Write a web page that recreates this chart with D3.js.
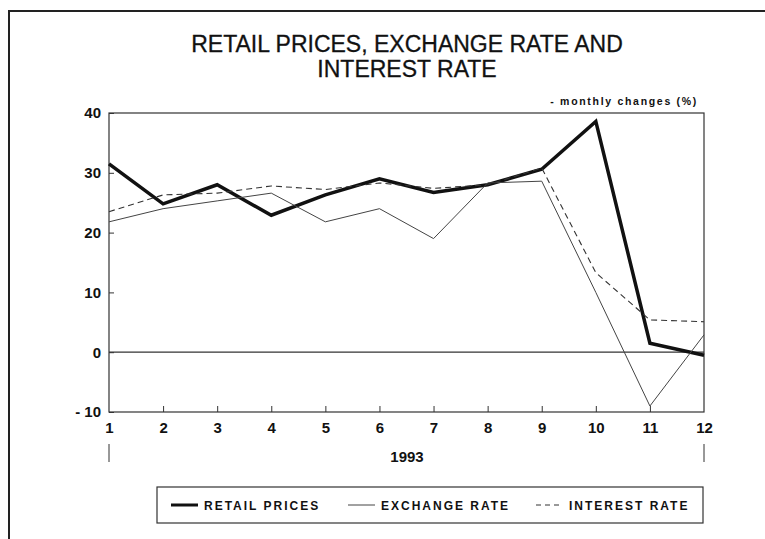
<!DOCTYPE html>
<html>
<head>
<meta charset="utf-8">
<script src="https://cdn.jsdelivr.net/npm/d3@7"></script>
<style>
  html, body { margin: 0; padding: 0; background: #fff; }
  svg { display: block; font-family: "Liberation Sans", Arial, sans-serif; }
</style>
</head>
<body>
<svg id="chart" width="765" height="539"></svg>
<script>
// ---- data ----
const months = [1, 2, 3, 4, 5, 6, 7, 8, 9, 10, 11, 12];
const retailPrices = [31.5, 24.8, 28.0, 22.9, 26.3, 29.0, 26.7, 28.0, 30.6, 38.6, 1.5, -0.5];
const exchangeRate = [21.8, 24.0, 25.3, 26.6, 21.8, 24.0, 19.0, 28.3, 28.6, 10.0, -9.0, 2.9];
const interestRate = [23.5, 26.3, 26.6, 27.8, 27.2, 28.3, 27.4, 28.0, 30.8, 13.3, 5.4, 5.1];
const yTicks = [-10, 0, 10, 20, 30, 40];
const titleLines = ["RETAIL PRICES, EXCHANGE RATE AND", "INTEREST RATE"];
const subtitle = "- monthly changes (%)";
const yearLabel = "1993";
const seriesNames = ["RETAIL PRICES", "EXCHANGE RATE", "INTEREST RATE"];

// ---- layout ----
const svg = d3.select("#chart");
const pLeft = 109, pRight = 704, pTop = 113, pBottom = 412;
const x = d3.scaleLinear().domain([1, 12]).range([pLeft, pRight]);
const y = d3.scaleLinear().domain([-10, 40]).range([pBottom, pTop]);

// outer frame (left and top edges)
svg.append("path")
  .attr("d", "M9,539 L9,11 L765,11")
  .attr("fill", "none").attr("stroke", "#222").attr("stroke-width", 2);

// title
svg.append("g").selectAll("text").data(titleLines).join("text")
  .attr("x", 407).attr("y", (d, i) => 52 + i * 25)
  .attr("text-anchor", "middle")
  .attr("font-size", 23).attr("fill", "#111")
  .attr("stroke", "#111").attr("stroke-width", 0.3)
  .text(d => d);

// subtitle
svg.append("text")
  .attr("x", 698).attr("y", 105).attr("text-anchor", "end")
  .attr("font-size", 10.5).attr("font-weight", "bold")
  .attr("letter-spacing", 1.7).attr("fill", "#111")
  .text(subtitle);

// plot frame
svg.append("rect")
  .attr("x", pLeft).attr("y", pTop).attr("width", pRight - pLeft).attr("height", pBottom - pTop)
  .attr("fill", "none").attr("stroke", "#333").attr("stroke-width", 1.2);

// zero line
svg.append("line")
  .attr("x1", pLeft).attr("x2", pRight).attr("y1", y(0)).attr("y2", y(0))
  .attr("stroke", "#333").attr("stroke-width", 1.2);

// y axis
const yAxis = d3.axisLeft(y).tickValues(yTicks).tickSize(-5).tickPadding(8)
  .tickFormat(d => d < 0 ? "- " + Math.abs(d) : d);
const gy = svg.append("g").attr("transform", `translate(${pLeft},0)`).call(yAxis);
gy.select(".domain").remove();
gy.selectAll(".tick line").attr("stroke", "#333");
gy.selectAll(".tick text").attr("font-size", 15).attr("font-weight", "bold")
  .attr("fill", "#111").attr("font-family", "Liberation Sans, Arial, sans-serif");

// x axis
const xAxis = d3.axisBottom(x).tickValues(months).tickSize(-6).tickPadding(10)
  .tickFormat(d3.format("d"));
const gx = svg.append("g").attr("transform", `translate(0,${pBottom})`).call(xAxis);
gx.select(".domain").remove();
gx.selectAll(".tick line").attr("stroke", "#333")
  .attr("display", d => (d === 1 || d === 12) ? "none" : null);
gx.selectAll(".tick text").attr("font-size", 15).attr("font-weight", "bold")
  .attr("fill", "#111").attr("font-family", "Liberation Sans, Arial, sans-serif");

// year marks below 1 and 12
svg.append("g").selectAll("line").data([1, 12]).join("line")
  .attr("x1", d => x(d)).attr("x2", d => x(d))
  .attr("y1", 444).attr("y2", 462)
  .attr("stroke", "#333").attr("stroke-width", 1);
svg.append("text")
  .attr("x", 407).attr("y", 462).attr("text-anchor", "middle")
  .attr("font-size", 15).attr("font-weight", "bold").attr("fill", "#111")
  .text(yearLabel);

// series lines
const line = d3.line().x((d, i) => x(months[i])).y(d => y(d));
const styles = [
  { data: retailPrices, width: 3.5, dash: null, color: "#111" },
  { data: exchangeRate, width: 1, dash: null, color: "#444" },
  { data: interestRate, width: 1.1, dash: "6,4", color: "#333" }
];
styles.forEach(s => {
  svg.append("path").datum(s.data)
    .attr("d", line)
    .attr("fill", "none")
    .attr("stroke", s.color)
    .attr("stroke-width", s.width)
    .attr("stroke-linejoin", "miter")
    .attr("stroke-dasharray", s.dash);
});

// legend
const legend = svg.append("g");
legend.append("rect")
  .attr("x", 157).attr("y", 487).attr("width", 546).attr("height", 36)
  .attr("fill", "none").attr("stroke", "#333").attr("stroke-width", 1.2);
const legX = [171, 348, 536];
seriesNames.forEach((name, i) => {
  const s = styles[i];
  legend.append("line")
    .attr("x1", legX[i]).attr("x2", legX[i] + 27)
    .attr("y1", 505).attr("y2", 505)
    .attr("stroke", s.color).attr("stroke-width", i === 0 ? 3 : 1)
    .attr("stroke-dasharray", i === 2 ? "5,4" : null);
  legend.append("text")
    .attr("x", legX[i] + 33).attr("y", 510)
    .attr("font-size", 12).attr("font-weight", "bold")
    .attr("letter-spacing", 2).attr("fill", "#111")
    .text(name);
});
</script>
</body>
</html>
